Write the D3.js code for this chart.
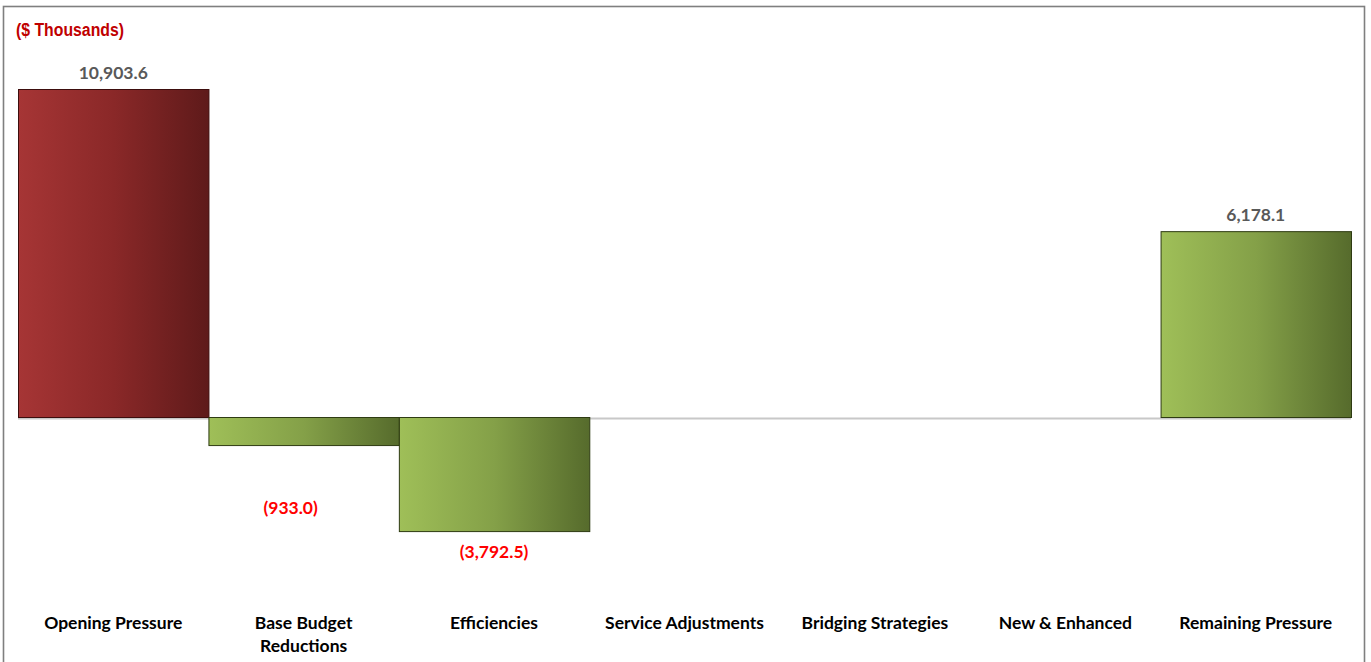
<!DOCTYPE html>
<html>
<head>
<meta charset="utf-8">
<script src="https://cdn.jsdelivr.net/npm/d3@7"></script>
<style>
  html, body { margin: 0; padding: 0; background: #fff; }
  svg { display: block; }
</style>
</head>
<body>
<svg id="chart" width="1371" height="662"></svg>
<script>
const categories = ["Opening Pressure", "Base Budget Reductions", "Efficiencies", "Service Adjustments", "Bridging Strategies", "New & Enhanced", "Remaining Pressure"];
const categoryLines = [["Opening Pressure"], ["Base Budget", "Reductions"], ["Efficiencies"], ["Service Adjustments"], ["Bridging Strategies"], ["New & Enhanced"], ["Remaining Pressure"]];
const values = [10903.6, -933.0, -3792.5, null, null, null, 6178.1];
const valueLabels = ["10,903.6", "(933.0)", "(3,792.5)", "", "", "", "6,178.1"];
const barColorKeys = ["red", "green", "green", "green", "green", "green", "green"];
const titleText = "($ Thousands)";

const svg = d3.select("#chart");

// outer frame
svg.append("rect").attr("x", 3.5).attr("y", 6.5).attr("width", 1361).attr("height", 670)
  .attr("fill", "none").attr("stroke", "#7f7f7f").attr("stroke-width", 1.6);

const defs = svg.append("defs");
const grads = {
  red: ["#a63535", "#8a2828", "#5e1a1a"],
  green: ["#9fbf58", "#84a048", "#566b2c"]
};
Object.entries(grads).forEach(([k, c]) => {
  const g = defs.append("linearGradient").attr("id", "g-" + k)
    .attr("x1", "0%").attr("x2", "100%").attr("y1", "0%").attr("y2", "0%");
  g.append("stop").attr("offset", "0%").attr("stop-color", c[0]);
  g.append("stop").attr("offset", "50%").attr("stop-color", c[1]);
  g.append("stop").attr("offset", "100%").attr("stop-color", c[2]);
});
const strokeCol = { red: "#3d0d0d", green: "#2e3b12" };

const x = d3.scaleBand().domain(categories).range([18, 1351]).paddingInner(0).paddingOuter(0);
const y = d3.scaleLinear().domain([0, 10903.6]).range([417.5, 89.5]);

// zero line
svg.append("line").attr("x1", 18).attr("x2", 1351).attr("y1", y(0) + 1).attr("y2", y(0) + 1)
  .attr("stroke", "#c8c8c8").attr("stroke-width", 2);

const data = categories.map((c, i) => ({ c, v: values[i], lab: valueLabels[i], col: barColorKeys[i], i }));

svg.selectAll("rect.bar").data(data.filter(d => d.v !== null)).enter().append("rect")
  .attr("class", "bar")
  .attr("x", d => x(d.c) + 0.5)
  .attr("width", x.bandwidth())
  .attr("y", d => Math.min(y(0), y(d.v)))
  .attr("height", d => Math.abs(y(d.v) - y(0)))
  .attr("fill", d => "url(#g-" + d.col + ")")
  .attr("stroke", d => strokeCol[d.col])
  .attr("stroke-width", 1);

const valFont = "Lato, 'Open Sans', sans-serif";
const negOffsets = { 1: 62, 2: 20 };
const negDx = { 1: -13, 2: 0 };
svg.selectAll("text.val").data(data.filter(d => d.v !== null)).enter().append("text")
  .attr("class", "val")
  .attr("x", d => x(d.c) + x.bandwidth() / 2 + (d.v < 0 ? negDx[d.i] : 0))
  .attr("y", d => d.v >= 0 ? y(d.v) - 17 : y(d.v) + negOffsets[d.i])
  .attr("dominant-baseline", "central")
  .attr("text-anchor", "middle")
  .attr("font-family", valFont)
  .attr("font-weight", "bold")
  .attr("font-size", 17.5)
  .attr("fill", d => d.v >= 0 ? "#595959" : "#ff0000")
  .text(d => d.lab);

const cat = svg.selectAll("text.cat").data(data).enter().append("text")
  .attr("class", "cat")
  .attr("x", d => x(d.c) + x.bandwidth() / 2)
  .attr("y", 623)
  .attr("text-anchor", "middle")
  .attr("font-family", valFont)
  .attr("font-weight", "bold")
  .attr("font-size", 17.5)
  .attr("fill", "#000");
cat.each(function(d) {
  const t = d3.select(this);
  categoryLines[d.i].forEach((ln, k) => {
    t.append("tspan").attr("x", x(d.c) + x.bandwidth() / 2)
      .attr("dy", k === 0 ? "0.35em" : 23).text(ln);
  });
});

svg.append("text").attr("x", 16).attr("y", 30)
  .attr("dominant-baseline", "central")
  .attr("font-family", "'Liberation Sans', Arial, sans-serif")
  .attr("font-weight", "bold").attr("font-size", 18)
  .attr("textLength", 108).attr("lengthAdjust", "spacingAndGlyphs")
  .attr("fill", "#c00000")
  .text(titleText);
</script>
</body>
</html>
